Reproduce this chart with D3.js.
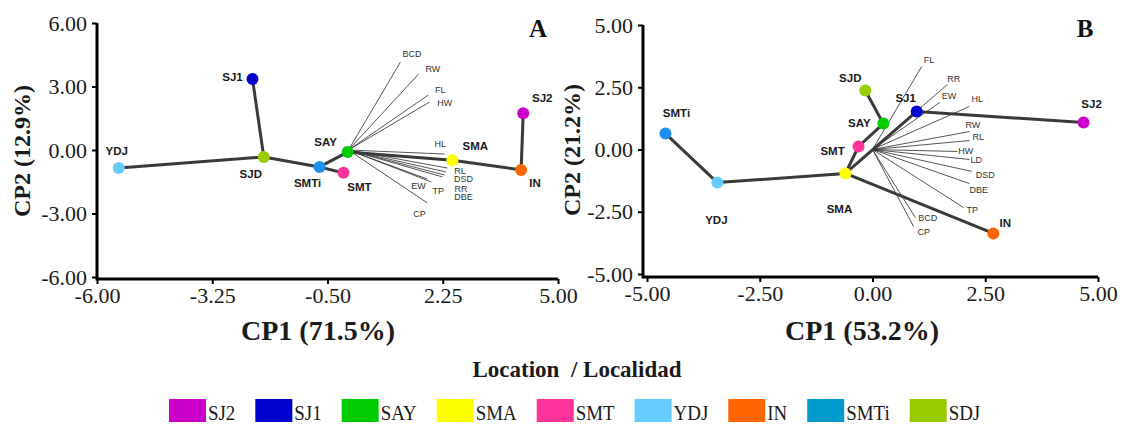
<!DOCTYPE html>
<html>
<head>
<meta charset="utf-8">
<script src="https://cdn.jsdelivr.net/npm/d3@7"></script>
<style>
  body { margin: 0; background: #fff; }
</style>
</head>
<body>
<svg id="chart" width="1122" height="424"></svg>
<script>
// Legend: locations and their colours
const locations = ["SJ2", "SJ1", "SAY", "SMA", "SMT", "YDJ", "IN", "SMTi", "SDJ"];
const locationColors = ["#cc00cc", "#0000cc", "#00cc00", "#ffff00", "#ff3399", "#66ccff", "#ff6600", "#0099cc", "#99cc00"];

// Panel A: site scores, minimum spanning tree, trait loadings
const sitesA = ["YDJ", "SJ1", "SJD", "SMTi", "SMT", "SAY", "SMA", "IN", "SJ2"];
const cp1A = [-5.48, -2.29, -2.02, -0.69, -0.12, -0.02, 2.48, 4.12, 4.17];
const cp2A = [-0.85, 3.35, -0.33, -0.80, -1.08, -0.10, -0.48, -0.94, 1.74];
const treeA = [["YDJ", "SJD"], ["SJ1", "SJD"], ["SJD", "SMTi"], ["SMTi", "SMT"], ["SMTi", "SAY"], ["SAY", "SMA"], ["SMA", "IN"], ["IN", "SJ2"]];
const traitsA = ["BCD", "RW", "FL", "HW", "HL", "RL", "DSD", "RR", "DBE", "TP", "EW", "CP"];
const loadX_A = [1.24, 1.67, 1.90, 1.93, 2.29, 2.36, 2.33, 2.29, 2.24, 1.98, 1.88, 1.88];
const loadY_A = [4.15, 3.58, 2.59, 2.26, -0.19, -0.85, -1.04, -1.18, -1.27, -1.51, -1.37, -2.50];

// Panel B
const sitesB = ["SMTi", "YDJ", "SMA", "SMT", "SJD", "SAY", "SJ1", "SJ2", "IN"];
const cp1B = [-4.59, -3.44, -0.60, -0.31, -0.16, 0.24, 0.98, 4.68, 2.68];
const cp2B = [0.64, -1.33, -0.96, 0.12, 2.37, 1.04, 1.53, 1.08, -3.37];
const treeB = [["SMTi", "YDJ"], ["YDJ", "SMA"], ["SMA", "IN"], ["SMA", "SJ1"], ["SJ1", "SJ2"], ["SMA", "SMT"], ["SMT", "SAY"], ["SAY", "SJD"]];
const traitsB = ["FL", "RR", "EW", "HL", "RW", "RL", "HW", "LD", "DSD", "DBE", "TP", "BCD", "CP"];
const loadX_B = [1.09, 1.66, 1.49, 2.15, 2.15, 2.15, 1.88, 2.15, 2.20, 2.15, 2.02, 0.95, 0.91];
const loadY_B = [3.33, 2.61, 1.89, 1.73, 0.72, 0.36, -0.08, -0.40, -0.88, -1.37, -2.33, -2.73, -3.09];

const ticksA_x = [-6, -3.25, -0.5, 2.25, 5];
const ticksA_y = [-6, -3, 0, 3, 6];
const ticksB_x = [-5, -2.5, 0, 2.5, 5];
const ticksB_y = [-5, -2.5, 0, 2.5, 5];

// label nudges in pixels (site labels: centre/baseline, trait labels: left/baseline)
const siteNudgeA = { YDJ: [-2, -13], SJ1: [-20, 2], SJD: [-13, 21], SMTi: [-12, 20], SMT: [16, 18], SAY: [-22, -6], SMA: [23, -10], IN: [14, 17], SJ2: [19, -11] };
const traitNudgeA = { BCD: [2, -5], RW: [7, -2], FL: [7, -2], HW: [8, 4], HL: [-10, -7], RL: [7, 6], DSD: [8, 10], RR: [10, 17], DBE: [12, 23], TP: [1, 12], EW: [-16, 10], CP: [-14, 14] };
const siteNudgeB = { SMTi: [11, -17], YDJ: [-1, 41], SMA: [-6, 40], SMT: [-26, 8], SJD: [-15, -8], SAY: [-24, 3], SJ1: [-11, -9], SJ2: [8, -15], IN: [12, -6] };
const traitNudgeB = { FL: [2, -4], RR: [0, -3], EW: [2, -3], HL: [2, -4], RW: [-4, -4], RL: [3, -1], HW: [1, 3], LD: [1, 4], DSD: [4, 7], DBE: [0, 9], TP: [3, 5], BCD: [3, 4], CP: [4, 9] };

const svg = d3.select("#chart");
svg.append("rect").attr("width", 1122).attr("height", 424).attr("fill", "#fff");

const serif = "'Liberation Serif', 'Times New Roman', serif";
const sans = "'Liberation Sans', Arial, sans-serif";

const colorOf = new Map(locations.map((l, i) => [l, locationColors[i]]));
colorOf.set("SJD", colorOf.get("SDJ")); // the plots spell it SJD
const dotColor = name => name === "SMTi" ? "#1e8ff0" : colorOf.get(name);

function drawPanel(p) {
    const x = d3.scaleLinear().domain(d3.extent(p.xTicks)).range(p.xRange);
    const y = d3.scaleLinear().domain(d3.extent(p.yTicks)).range(p.yRange);
    const g = svg.append("g");
    const fmt = d => d.toFixed(2);

    const xAxis = g.append("g")
        .attr("transform", `translate(0,${p.xAxisY})`)
        .call(d3.axisBottom(x).tickValues(p.xTicks).tickFormat(fmt).tickSize(5).tickPadding(3).tickSizeOuter(0));
    const yAxis = g.append("g")
        .attr("transform", `translate(${p.yAxisX},0)`)
        .call(d3.axisLeft(y).tickValues(p.yTicks).tickFormat(fmt).tickSize(5).tickPadding(5).tickSizeOuter(0));
    [xAxis, yAxis].forEach(a => {
        a.select(".domain").remove();
        a.selectAll(".tick line").attr("stroke", "#000").attr("stroke-width", 2);
        a.selectAll(".tick text").attr("font-family", serif).attr("font-size", 22).attr("fill", "#1a1a1a");
    });
    g.append("line")
        .attr("x1", p.yAxisX).attr("x2", x.range()[1])
        .attr("y1", p.xAxisY).attr("y2", p.xAxisY)
        .attr("stroke", "#000").attr("stroke-width", 3);
    g.append("line")
        .attr("x1", p.yAxisX).attr("x2", p.yAxisX)
        .attr("y1", y.range()[1]).attr("y2", p.xAxisY + 1.5)
        .attr("stroke", "#000").attr("stroke-width", 3);

    // axis titles and panel letter
    g.append("text")
        .attr("x", p.xTitle[0]).attr("y", p.xTitle[1])
        .attr("text-anchor", "middle")
        .attr("font-family", serif).attr("font-weight", "bold").attr("font-size", 28)
        .attr("fill", "#1a1a1a")
        .text(p.xLabel);
    g.append("text")
        .attr("transform", `translate(${p.yTitle[0]},${p.yTitle[1]}) rotate(-90)`)
        .attr("text-anchor", "middle")
        .attr("font-family", serif).attr("font-weight", "bold").attr("font-size", 24)
        .attr("fill", "#1a1a1a")
        .text(p.yLabel);
    g.append("text")
        .attr("x", p.letter[0]).attr("y", p.letter[1])
        .attr("text-anchor", "middle")
        .attr("font-family", serif).attr("font-weight", "bold").attr("font-size", 25)
        .attr("fill", "#111")
        .text(p.panel);

    const sites = p.sites.map((s, i) => ({ name: s, cx: p.cp1[i], cy: p.cp2[i] }));
    const byName = new Map(sites.map(d => [d.name, d]));

    // trait loading vectors
    const traits = p.traits.map((t, i) => ({ name: t, lx: p.loadX[i], ly: p.loadY[i] }));
    g.append("g")
        .selectAll("line")
        .data(traits)
        .join("line")
        .attr("x1", x(0)).attr("y1", y(0))
        .attr("x2", d => x(d.lx)).attr("y2", d => y(d.ly))
        .attr("stroke", "#2a2a2a").attr("stroke-width", 0.8);
    g.append("g")
        .selectAll("text")
        .data(traits)
        .join("text")
        .attr("x", d => x(d.lx) + p.traitNudge[d.name][0])
        .attr("y", d => y(d.ly) + p.traitNudge[d.name][1])
        .attr("font-family", sans).attr("font-size", 9).attr("fill", "#333")
        .text(d => d.name);

    // spanning tree
    g.append("g")
        .selectAll("line")
        .data(p.tree)
        .join("line")
        .attr("x1", d => x(byName.get(d[0]).cx)).attr("y1", d => y(byName.get(d[0]).cy))
        .attr("x2", d => x(byName.get(d[1]).cx)).attr("y2", d => y(byName.get(d[1]).cy))
        .attr("stroke", "#3a3a3a").attr("stroke-width", 3).attr("stroke-linecap", "round");

    g.append("g")
        .selectAll("circle")
        .data(sites)
        .join("circle")
        .attr("cx", d => x(d.cx)).attr("cy", d => y(d.cy))
        .attr("r", 6)
        .attr("fill", d => dotColor(d.name));

    g.append("g")
        .selectAll("text")
        .data(sites)
        .join("text")
        .attr("x", d => x(d.cx) + p.siteNudge[d.name][0])
        .attr("y", d => y(d.cy) + p.siteNudge[d.name][1])
        .attr("text-anchor", "middle")
        .attr("font-family", sans).attr("font-weight", "bold").attr("font-size", 11.5)
        .attr("fill", "#1a1a1a")
        .text(d => d.name);
}

drawPanel({
    panel: "A", sites: sitesA, cp1: cp1A, cp2: cp2A, tree: treeA,
    traits: traitsA, loadX: loadX_A, loadY: loadY_A,
    siteNudge: siteNudgeA, traitNudge: traitNudgeA,
    xTicks: ticksA_x, yTicks: ticksA_y,
    xRange: [97, 558], yRange: [277, 23], yAxisX: 97, xAxisY: 279,
    xLabel: "CP1 (71.5%)", yLabel: "CP2 (12.9%)",
    xTitle: [318, 340], yTitle: [30, 151], letter: [538, 37]
});

drawPanel({
    panel: "B", sites: sitesB, cp1: cp1B, cp2: cp2B, tree: treeB,
    traits: traitsB, loadX: loadX_B, loadY: loadY_B,
    siteNudge: siteNudgeB, traitNudge: traitNudgeB,
    xTicks: ticksB_x, yTicks: ticksB_y,
    xRange: [647, 1098], yRange: [274, 25], yAxisX: 643, xAxisY: 277,
    xLabel: "CP1 (53.2%)", yLabel: "CP2 (21.2%)",
    xTitle: [862, 340], yTitle: [580, 150], letter: [1085, 37]
});

// legend
svg.append("text")
    .attr("x", 577).attr("y", 377)
    .attr("text-anchor", "middle")
    .style("white-space", "pre")
    .attr("font-family", serif).attr("font-weight", "bold").attr("font-size", 23)
    .attr("fill", "#1a1a1a")
    .text("Location  / Localidad");

const legend = svg.append("g").attr("transform", "translate(169,399)");
const squeeze = 0.86; // legend labels are narrow in the original
let cursor = 0;
locations.forEach((loc, i) => {
    const item = legend.append("g").attr("transform", `translate(${cursor},0)`);
    item.append("rect")
        .attr("width", 37).attr("height", 23)
        .attr("fill", locationColors[i]);
    const label = item.append("text")
        .attr("transform", `translate(39,21) scale(${squeeze},1)`)
        .attr("font-family", serif).attr("font-size", 22)
        .attr("fill", "#1a1a1a")
        .text(loc);
    cursor += 39 + label.node().getComputedTextLength() * squeeze + 20;
});
</script>
</body>
</html>
